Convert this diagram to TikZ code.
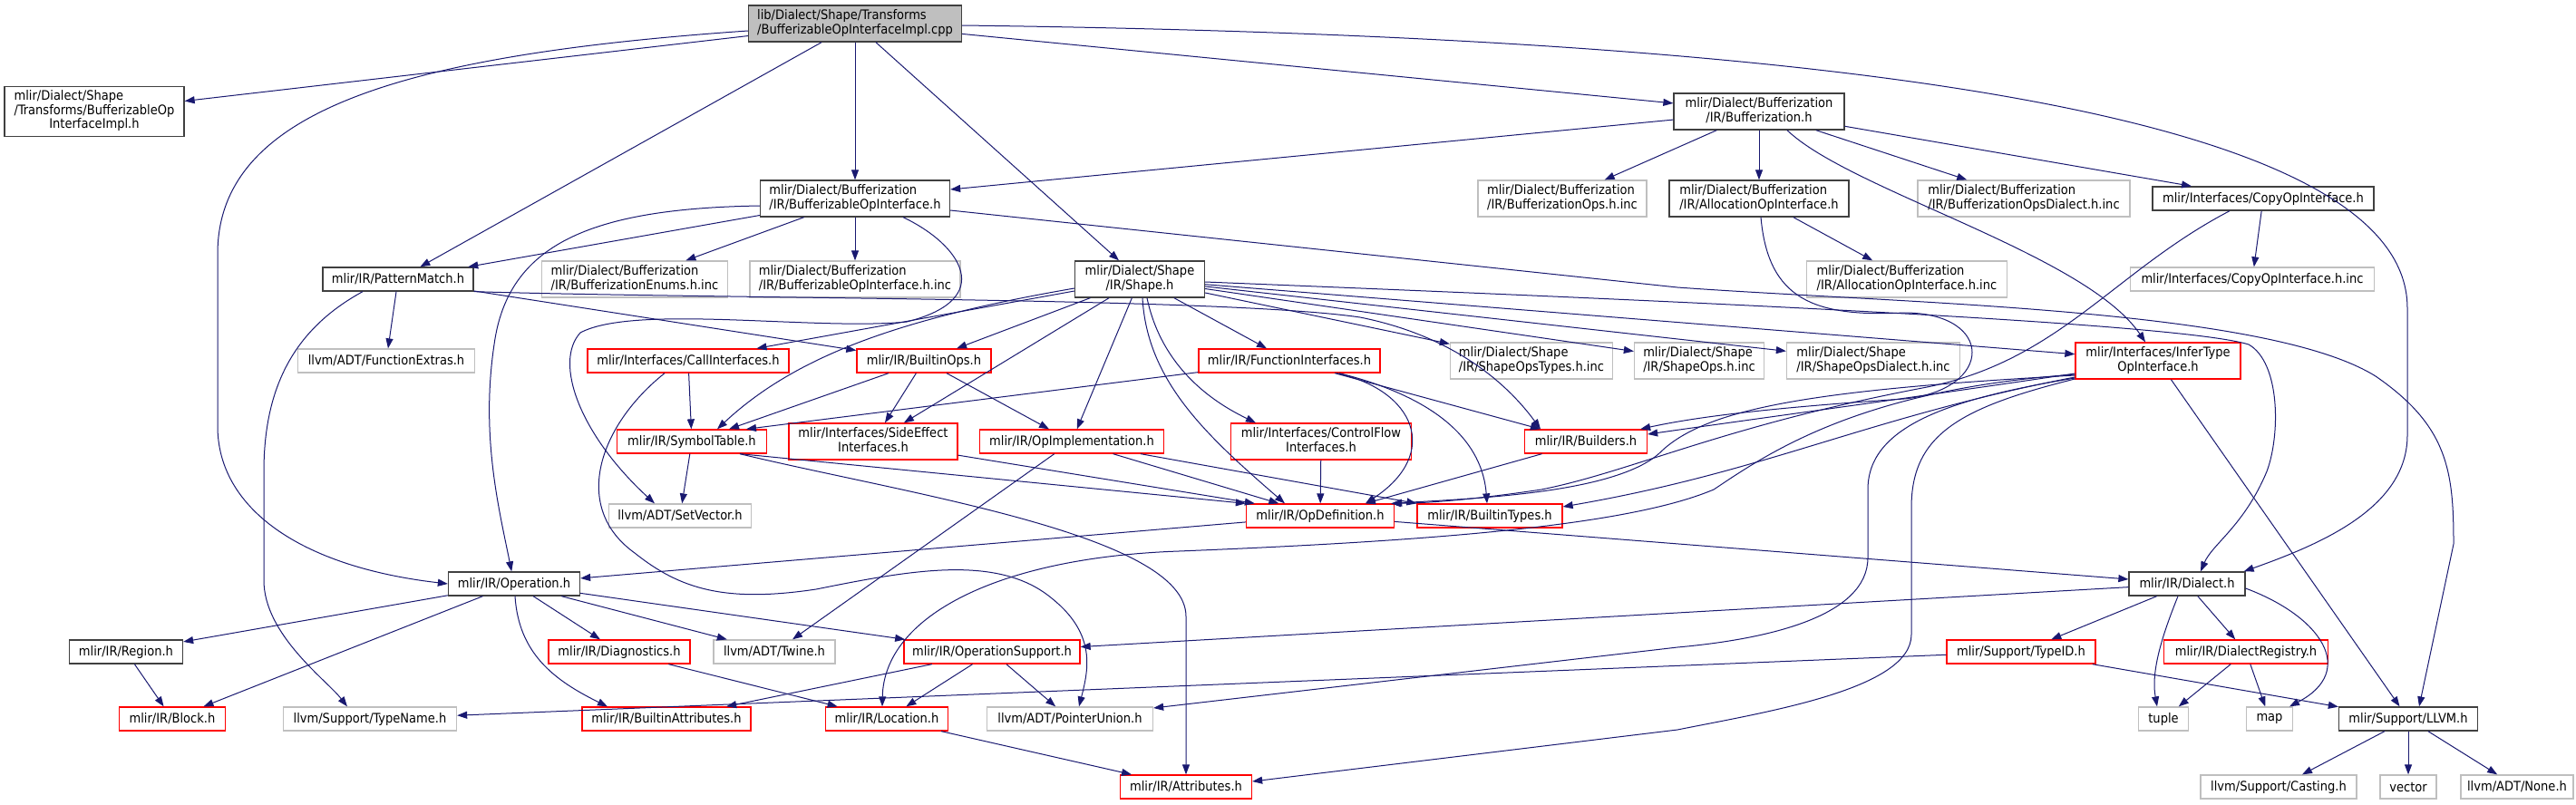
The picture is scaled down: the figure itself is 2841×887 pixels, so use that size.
\documentclass[tikz,border=0pt]{standalone}
\usepackage{fontspec}
\setmainfont{DejaVu Sans Condensed}
\usetikzlibrary{arrows.meta}
\definecolor{depblue}{HTML}{191970}
\definecolor{boxgray}{HTML}{BFBFBF}
\definecolor{boxdark}{HTML}{404040}
\definecolor{boxred}{HTML}{FF0000}
\newcommand{\twol}[2]{\begin{tabular}{@{}l@{}}#1\\\multicolumn{1}{@{}c@{}}{#2}\end{tabular}}
\newcommand{\threel}[3]{\begin{tabular}{@{}l@{}}#1\\#2\\\multicolumn{1}{@{}c@{}}{#3}\end{tabular}}

\begin{document}
\begin{tikzpicture}[x=1pt,y=-1pt,
  hbox/.style={draw,rectangle,inner xsep=2pt,inner ysep=0pt,minimum height=26pt,line width=1.3pt,
    font=\fontsize{14.5}{15}\selectfont},
  blkbox/.style={hbox,draw=boxdark},
  redbox/.style={hbox,draw=boxred},
  grybox/.style={hbox,draw=boxgray},
  rootbox/.style={hbox,draw=boxdark,fill=boxgray},
  dep/.style={draw=depblue,line width=1pt,-{Triangle[length=11pt,width=8pt]}}]
\useasboundingbox (0,0) rectangle (2841,887);

\node[rootbox,minimum width=235pt,minimum height=40pt] (root) at (943,26) {\twol{lib/Dialect/Shape/Transforms}{/BufferizableOpInterfaceImpl.cpp}};
\node[blkbox,minimum width=198pt,minimum height=55pt] (timpl) at (104,123) {\threel{mlir/Dialect/Shape}{/Transforms/BufferizableOp}{InterfaceImpl.h}};
\node[blkbox,minimum width=188pt,minimum height=40pt] (bufh) at (1940,123) {\twol{mlir/Dialect/Bufferization}{/IR/Bufferization.h}};
\node[blkbox,minimum width=209pt,minimum height=40pt] (bopi) at (943,219) {\twol{mlir/Dialect/Bufferization}{/IR/BufferizableOpInterface.h}};
\node[grybox,minimum width=186pt,minimum height=40pt] (bops) at (1723,219) {\twol{mlir/Dialect/Bufferization}{/IR/BufferizationOps.h.inc}};
\node[blkbox,minimum width=198pt,minimum height=40pt] (alloc) at (1940,219) {\twol{mlir/Dialect/Bufferization}{/IR/AllocationOpInterface.h}};
\node[grybox,minimum width=234pt,minimum height=40pt] (bdial) at (2232,219) {\twol{mlir/Dialect/Bufferization}{/IR/BufferizationOpsDialect.h.inc}};
\node[blkbox,minimum width=244pt] (copy) at (2496,219) {mlir/Interfaces/CopyOpInterface.h};
\node[blkbox,minimum width=166pt] (pm) at (439,308) {mlir/IR/PatternMatch.h};
\node[grybox,minimum width=205pt,minimum height=40pt] (benum) at (700,308) {\twol{mlir/Dialect/Bufferization}{/IR/BufferizationEnums.h.inc}};
\node[grybox,minimum width=232pt,minimum height=40pt] (bopiinc) at (943,308) {\twol{mlir/Dialect/Bufferization}{/IR/BufferizableOpInterface.h.inc}};
\node[blkbox,minimum width=143pt,minimum height=40pt] (shape) at (1257,308) {\twol{mlir/Dialect/Shape}{/IR/Shape.h}};
\node[grybox,minimum width=221pt,minimum height=40pt] (allocinc) at (2103,308) {\twol{mlir/Dialect/Bufferization}{/IR/AllocationOpInterface.h.inc}};
\node[grybox,minimum width=269pt] (copyinc) at (2484,308) {mlir/Interfaces/CopyOpInterface.h.inc};
\node[grybox,minimum width=195pt] (fext) at (426,398) {llvm/ADT/FunctionExtras.h};
\node[redbox,minimum width=222pt] (call) at (759,398) {mlir/Interfaces/CallInterfaces.h};
\node[redbox,minimum width=148pt] (bltops) at (1019,398) {mlir/IR/BuiltinOps.h};
\node[redbox,minimum width=200pt] (funci) at (1422,398) {mlir/IR/FunctionInterfaces.h};
\node[grybox,minimum width=179pt,minimum height=40pt] (sotypes) at (1689,398) {\twol{mlir/Dialect/Shape}{/IR/ShapeOpsTypes.h.inc}};
\node[grybox,minimum width=143pt,minimum height=40pt] (sops) at (1874,398) {\twol{mlir/Dialect/Shape}{/IR/ShapeOps.h.inc}};
\node[grybox,minimum width=191pt,minimum height=40pt] (sodial) at (2066,398) {\twol{mlir/Dialect/Shape}{/IR/ShapeOpsDialect.h.inc}};
\node[redbox,minimum width=182pt,minimum height=40pt] (infer) at (2380,398) {\twol{mlir/Interfaces/InferType}{OpInterface.h}};
\node[redbox,minimum width=165pt] (symtab) at (763,487) {mlir/IR/SymbolTable.h};
\node[redbox,minimum width=186pt,minimum height=40pt] (sideeff) at (963,487) {\twol{mlir/Interfaces/SideEffect}{Interfaces.h}};
\node[redbox,minimum width=203pt] (opimpl) at (1182,487) {mlir/IR/OpImplementation.h};
\node[redbox,minimum width=199pt,minimum height=40pt] (cflow) at (1457,487) {\twol{mlir/Interfaces/ControlFlow}{Interfaces.h}};
\node[redbox,minimum width=135pt] (builders) at (1749,487) {mlir/IR/Builders.h};
\node[grybox,minimum width=157pt] (setvec) at (750,569) {llvm/ADT/SetVector.h};
\node[redbox,minimum width=163pt] (opdef) at (1456,569) {mlir/IR/OpDefinition.h};
\node[redbox,minimum width=160pt] (btypes) at (1643,569) {mlir/IR/BuiltinTypes.h};
\node[blkbox,minimum width=145pt] (oper) at (567,644) {mlir/IR/Operation.h};
\node[blkbox,minimum width=128pt] (dialect) at (2412,644) {mlir/IR/Dialect.h};
\node[blkbox,minimum width=125pt] (region) at (139,719) {mlir/IR/Region.h};
\node[redbox,minimum width=156pt] (diag) at (683,719) {mlir/IR/Diagnostics.h};
\node[grybox,minimum width=134pt] (twine) at (854,719) {llvm/ADT/Twine.h};
\node[redbox,minimum width=194pt] (opsup) at (1094,719) {mlir/IR/OperationSupport.h};
\node[redbox,minimum width=164pt] (typeid) at (2229,719) {mlir/Support/TypeID.h};
\node[redbox,minimum width=181pt] (dreg) at (2477,719) {mlir/IR/DialectRegistry.h};
\node[redbox,minimum width=117pt] (block) at (190,793) {mlir/IR/Block.h};
\node[grybox,minimum width=191pt] (tname) at (408,793) {llvm/Support/TypeName.h};
\node[redbox,minimum width=186pt] (battr) at (735,793) {mlir/IR/BuiltinAttributes.h};
\node[redbox,minimum width=135pt] (loc) at (978,793) {mlir/IR/Location.h};
\node[grybox,minimum width=183pt] (punion) at (1180,793) {llvm/ADT/PointerUnion.h};
\node[grybox,minimum width=55pt] (tuple) at (2386,793) {tuple};
\node[grybox,minimum width=51pt] (map) at (2503,793) {map};
\node[blkbox,minimum width=153pt] (llvm) at (2656,793) {mlir/Support/LLVM.h};
\node[redbox,minimum width=145pt] (attrs) at (1308,868) {mlir/IR/Attributes.h};
\node[grybox,minimum width=172pt] (casting) at (2513,868) {llvm/Support/Casting.h};
\node[grybox,minimum width=62pt] (vector) at (2656,868) {vector};
\node[grybox,minimum width=124pt] (none) at (2776,868) {llvm/ADT/None.h};

\draw[dep] (root) -- (timpl);
\draw[dep] ([yshift=-8]root.west) .. controls (450,60) and (240,120) .. (240,280) -- (240,470) .. controls (240,560) and (330,625) .. (oper.west);
\draw[dep] (root) -- (pm);
\draw[dep] (root) -- (bopi);
\draw[dep] (root) -- (shape);
\draw[dep] (root) -- (bufh);
\draw[dep] ([yshift=-2]root.east) .. controls (2000,40) and (2655,120) .. (2655,340) -- (2655,480) .. controls (2655,560) and (2560,600) .. ([xshift=-2]dialect.north east);

\draw[dep] (bufh) -- (bopi);
\draw[dep] (bufh) -- (bops);
\draw[dep] (bufh) -- (alloc);
\draw[dep] (bufh) -- (bdial);
\draw[dep] (bufh) -- (copy);
\draw[dep] ([xshift=31]bufh.south) .. controls (2040,210) and (2300,280) .. (infer);

\draw[dep] (bopi) -- (pm);
\draw[dep] (bopi) -- (benum);
\draw[dep] (bopi) -- (bopiinc);
\draw[dep] ([yshift=-8]bopi.west) .. controls (650,230) and (560,270) .. (545,380) .. controls (530,480) and (550,560) .. (oper);
\draw[dep] ([xshift=53]bopi.south) .. controls (1060,270) and (1100,330) .. (1000,355) .. controls (900,365) and (700,335) .. (640,367) .. controls (610,400) and (640,480) .. ([xshift=-28]setvec.north);
\draw[dep] ([yshift=-13]bopi.east) -- (1850,317) .. controls (2100,335) and (2500,340) .. (2620,415) .. controls (2700,470) and (2706,520) .. (2706,600) -- ([xshift=12]llvm.north);

\draw[dep] (pm) -- (fext);
\draw[dep] ([xshift=-39]pm.south) .. controls (330,360) and (291,420) .. (291,520) -- (291,640) .. controls (291,700) and (360,750) .. ([xshift=-25]tname.north);
\draw[dep] (pm) -- (bltops);
\draw[dep] (pm.south east) .. controls (800,330) and (1350,328) .. (1500,350) .. controls (1600,370) and (1660,420) .. ([xshift=-50]builders.north);

\draw[dep] (bltops) -- ([xshift=41]symtab.north);
\draw[dep] (bltops) -- (sideeff);
\draw[dep] (bltops) -- (opimpl);

\draw[dep] (call) -- (symtab);
\draw[dep] ([xshift=-26]call.south) .. controls (660,470) and (630,560) .. (700,610) .. controls (750,650) and (800,665) .. (900,650) .. controls (1000,630) and (1100,610) .. (1160,660) .. controls (1210,700) and (1200,740) .. ([xshift=10]punion.north);

\draw[dep] (symtab) -- (setvec);
\draw[dep] ([xshift=53]symtab.south) -- (opdef.north west);
\draw[dep] ([xshift=53]symtab.south) .. controls (1000,545) and (1308,590) .. (1308,680) -- (attrs);

\draw[dep] (sideeff) -- ([xshift=10]opdef.north west);

\draw[dep] (opimpl) -- (opdef);
\draw[dep] (opimpl) -- (btypes.north west);
\draw[dep] (opimpl) -- ([xshift=20]twine.north);

\draw[dep] (funci) -- ([xshift=60]symtab.north);
\draw[dep] (funci) -- (builders);
\draw[dep] ([xshift=52]funci.south) .. controls (1560,430) and (1590,500) .. ([xshift=50]opdef.north);
\draw[dep] ([xshift=55]funci.south) .. controls (1590,440) and (1635,490) .. ([xshift=-3]btypes.north);

\draw[dep] (shape) -- (call);
\draw[dep] ([yshift=-10]shape.west) .. controls (1000,350) and (880,390) .. ([xshift=28]symtab.north);
\draw[dep] (shape) -- (bltops);
\draw[dep] (shape) -- (sideeff);
\draw[dep] (shape) -- (opimpl);
\draw[dep] ([xshift=3]shape.south) .. controls (1265,420) and (1330,480) .. ([xshift=-39]opdef.north);
\draw[dep] ([xshift=8]shape.south) .. controls (1280,400) and (1330,440) .. ([xshift=-72]cflow.north);
\draw[dep] (shape) -- (funci);
\draw[dep] (shape) -- (sotypes);
\draw[dep] (shape) -- (sops);
\draw[dep] (shape) -- (sodial);
\draw[dep] (shape) -- (infer);
\draw[dep] ([yshift=-3]shape.east) .. controls (1800,330) and (2400,355) .. (2480,380) .. controls (2515,400) and (2515,480) .. (2500,520) .. controls (2475,580) and (2440,600) .. ([xshift=15]dialect.north);

\draw[dep] (cflow) -- (opdef);
\draw[dep] (builders) -- ([xshift=50]opdef.north);
\draw[dep] (opdef) -- (oper);
\draw[dep] (opdef) -- (dialect);

\draw[dep] ([yshift=-14]infer.west) .. controls (2100,440) and (1950,460) .. ([yshift=8]builders.east);
\draw[dep] ([yshift=-16]infer.west) .. controls (2000,430) and (1880,450) .. (1830,500) .. controls (1780,545) and (1620,550) .. ([xshift=-3]opdef.north east);
\draw[dep] ([yshift=-18]infer.west) .. controls (2060,460) and (1950,520) .. ([yshift=10]btypes.east);
\draw[dep] ([yshift=-15]infer.west) .. controls (2050,430) and (1950,500) .. (1890,540) .. controls (1800,578) and (1600,596) .. (1300,608) .. controls (1100,615) and (975,680) .. ([xshift=-5]loc.north);
\draw[dep] ([yshift=-19]infer.west) .. controls (2150,440) and (2060,470) .. (2060,540) -- (2060,615) .. controls (2060,680) and (1950,705) .. (1850,714) -- ([yshift=12]punion.east);
\draw[dep] ([yshift=-20]infer.west) .. controls (2160,450) and (2108,480) .. (2108,560) -- (2108,700) .. controls (2108,760) and (1950,785) .. (1850,805) -- ([yshift=6]attrs.east);
\draw[dep] (infer) -- (llvm);

\draw[dep] (copy) -- (copyinc);
\draw[dep] ([xshift=-37]copy.south) .. controls (2330,300) and (2270,400) .. (2120,428) .. controls (1900,470) and (1800,520) .. (1700,540) .. controls (1620,552) and (1570,555) .. ([xshift=-4]opdef.north east);

\draw[dep] (alloc) -- (allocinc);
\draw[dep] ([xshift=2]alloc.south) .. controls (1950,330) and (2000,350) .. (2100,345) .. controls (2200,345) and (2200,430) .. (2100,440) .. controls (1950,450) and (1870,460) .. ([xshift=-8]builders.north east);

\draw[dep] (dialect) -- (opsup);
\draw[dep] (dialect) -- (typeid);
\draw[dep] ([xshift=-10]dialect.south) .. controls (2385,700) and (2372,740) .. ([xshift=-7]tuple.north);
\draw[dep] (dialect) -- (dreg);
\draw[dep] ([yshift=-5]dialect.east) .. controls (2560,680) and (2600,740) .. ([xshift=22]map.north);
\draw[dep] (dreg) -- (tuple);
\draw[dep] (dreg) -- (map);
\draw[dep] (typeid) -- (llvm);
\draw[dep] (typeid) -- (tname);
\draw[dep] (llvm) -- (casting);
\draw[dep] (llvm) -- (vector);
\draw[dep] (llvm) -- (none);

\draw[dep] (oper) -- (region);
\draw[dep] (oper) -- (block);
\draw[dep] ([xshift=1]oper.south) .. controls (572,720) and (610,750) .. ([xshift=-65]battr.north);
\draw[dep] (oper) -- (diag);
\draw[dep] (oper) -- (twine);
\draw[dep] (oper) -- (opsup);
\draw[dep] (region) -- (block);
\draw[dep] (diag) -- (loc);
\draw[dep] (opsup) -- (battr);
\draw[dep] (opsup) -- (loc);
\draw[dep] (opsup) -- (punion);
\draw[dep] (loc) -- (attrs);
\end{tikzpicture}
\end{document}
